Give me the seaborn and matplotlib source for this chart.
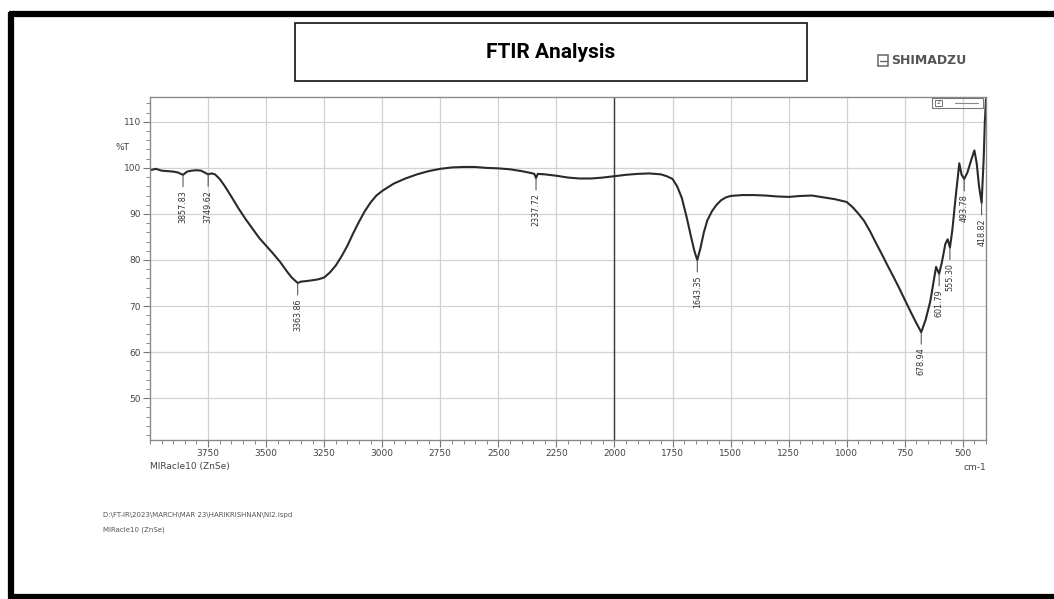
import numpy as np
import pandas as pd
import matplotlib
matplotlib.use("Agg")
import matplotlib.pyplot as plt
import seaborn as sns
from matplotlib.patches import Rectangle
from matplotlib.lines import Line2D
from matplotlib.ticker import MultipleLocator, FixedLocator

# ---------------- data ----------------
wavenumber = [4000, 3975, 3950, 3925, 3900, 3880, 3857.83, 3840, 3820, 3800, 3780, 3765,
              3749.62, 3735, 3720, 3700, 3680, 3650, 3620, 3590, 3560, 3530, 3500, 3470,
              3440, 3410, 3390, 3375, 3363.86, 3350, 3330, 3300, 3275, 3250, 3225, 3200,
              3175, 3150, 3125, 3100, 3075, 3050, 3025, 3000, 2950, 2900, 2850, 2800, 2750,
              2700, 2650, 2600, 2550, 2500, 2450, 2400, 2360, 2345, 2337.72, 2330, 2300,
              2250, 2200, 2150, 2100, 2050, 2000, 1950, 1900, 1850, 1800, 1775, 1750, 1730,
              1710, 1690, 1670, 1655, 1643.35, 1630, 1615, 1600, 1580, 1560, 1540, 1520,
              1500, 1450, 1400, 1350, 1300, 1250, 1200, 1150, 1100, 1050, 1000, 975, 950,
              925, 900, 875, 850, 825, 800, 775, 750, 725, 700, 678.94, 660, 640, 625, 615,
              601.79, 590, 575, 565, 555.30, 545, 530, 515, 505, 493.78, 480, 465, 450, 440,
              430, 418.82, 410, 405, 400]
transmittance = [99.5, 99.8, 99.4, 99.3, 99.2, 99.0, 98.5, 99.2, 99.4, 99.5, 99.4, 99.0,
                 98.6, 98.8, 98.6, 97.6, 96.2, 93.8, 91.3, 89.0, 86.9, 84.8, 83.1, 81.4,
                 79.6, 77.5, 76.2, 75.5, 75.0, 75.3, 75.4, 75.6, 75.8, 76.2, 77.3, 78.8,
                 80.8, 83.1, 85.8, 88.3, 90.6, 92.5, 94.0, 95.0, 96.6, 97.7, 98.6, 99.3, 99.8,
                 100.1, 100.2, 100.2, 100.0, 99.9, 99.7, 99.3, 98.9, 98.7, 97.8, 98.7, 98.6,
                 98.3, 97.9, 97.7, 97.7, 97.9, 98.2, 98.5, 98.7, 98.8, 98.6, 98.2, 97.6, 96.0,
                 93.5, 89.5, 85.0, 81.8, 80.0, 82.5, 86.0, 88.6, 90.6, 92.0, 93.0, 93.6,
                 93.9, 94.1, 94.1, 94.0, 93.8, 93.7, 93.9, 94.0, 93.6, 93.2, 92.6, 91.5, 90.1,
                 88.5, 86.3, 83.8, 81.4, 78.9, 76.5, 74.0, 71.4, 68.8, 66.3, 64.3, 67.0, 71.0,
                 75.5, 78.5, 77.0, 79.5, 83.5, 84.5, 82.7, 86.5, 94.0, 101.0, 98.5, 97.6,
                 99.0, 101.5, 103.8, 101.0, 96.0, 92.4, 102.0, 110.0, 115.0]
peak_wavenumbers = [3857.83, 3749.62, 3363.86, 2337.72, 1643.35, 678.94, 601.79, 555.30,
                    493.78, 418.82]
peak_labels = ["3857.83", "3749.62", "3363.86", "2337.72", "1643.35", "678.94", "601.79",
               "555.30", "493.78", "418.82"]
x_ticks = [3750, 3500, 3250, 3000, 2750, 2500, 2250, 2000, 1750, 1500, 1250, 1000, 750, 500]
y_ticks = [50, 60, 70, 80, 90, 100, 110]

title_text = "FTIR Analysis"
brand_text = "SHIMADZU"
x_unit = "cm-1"
y_unit = "%T"
accessory = "MIRacle10 (ZnSe)"
file_path = r"D:\FT-IR\2023\MARCH\MAR 23\HARIKRISHNAN\NI2.ispd"

# ---------------- figure ----------------
sns.set_theme(style="white")
plt.rcParams["font.family"] = ["DejaVu Sans"]

W, H = 1054, 599
fig = plt.figure(figsize=(W / 100, H / 100), dpi=100)
fig.patch.set_facecolor("white")


def fx(px):
    return px / W


def fy(py):
    return 1 - py / H


ax = fig.add_axes([fx(150), fy(440), fx(986) - fx(150), fy(97) - fy(440)])

df = pd.DataFrame({"wavenumber": wavenumber, "T": transmittance})
sns.lineplot(data=df, x="wavenumber", y="T", sort=False, estimator=None,
             color="#2a2a2a", lw=1.5, ax=ax)

ax.set_xlim(4000, 400)
ax.set_ylim(40.9, 115.4)
ax.set_xlabel("")
ax.set_ylabel("")

ax.xaxis.set_major_locator(FixedLocator(x_ticks))
ax.xaxis.set_minor_locator(MultipleLocator(50))
ax.yaxis.set_major_locator(FixedLocator(y_ticks))
ax.yaxis.set_minor_locator(MultipleLocator(2))
ax.tick_params(axis="both", which="major", direction="out", length=5, width=0.8,
               color="#777777", labelsize=6.5, labelcolor="#444444", pad=1.5,
               bottom=True, left=True)
ax.tick_params(axis="both", which="minor", direction="out", length=3, width=0.7,
               color="#888888", bottom=True, left=True)
ax.set_xticklabels([str(v) for v in x_ticks])
ax.set_yticklabels([str(v) for v in y_ticks])

ax.grid(True, which="major", color="#d2d2d2", lw=0.9)
ax.axvline(2000, color="#3a3a3a", lw=1.0, zorder=1)
for s in ax.spines.values():
    s.set_color("#8a8a8a")
    s.set_linewidth(1.0)

# peak annotations
for wn, lab in zip(peak_wavenumbers, peak_labels):
    t = transmittance[wavenumber.index(wn)]
    ax.annotate(lab, xy=(wn, t), xytext=(0, -11), textcoords="offset points",
                rotation=90, ha="center", va="top", fontsize=5.8, color="#333333",
                arrowprops=dict(arrowstyle="-", lw=0.7, color="#444444",
                                shrinkA=0, shrinkB=0))

# axis unit texts
fig.text(fx(122), fy(147), y_unit, fontsize=6.5, color="#444444", ha="center", va="center")
fig.text(fx(986), fy(468), x_unit, fontsize=6.5, color="#444444", ha="right", va="center")
fig.text(fx(150), fy(467), accessory, fontsize=6.5, color="#444444", ha="left", va="center")

# small legend box in the top-right of the plot
fig.patches.append(Rectangle((fx(932), fy(108)), fx(983) - fx(932), fy(98) - fy(108),
                             transform=fig.transFigure, fill=False, ec="#777777", lw=0.8))
fig.patches.append(Rectangle((fx(935), fy(106)), fx(942) - fx(935), fy(100) - fy(106),
                             transform=fig.transFigure, fill=False, ec="#777777", lw=0.7))
fig.text(fx(938.5), fy(103), "2", fontsize=4.5, color="#555555", ha="center", va="center")
fig.lines.append(Line2D([fx(955), fx(978)], [fy(103), fy(103)], transform=fig.transFigure,
                        color="#888888", lw=0.8))

# file info texts
fig.text(fx(103), fy(515), file_path, fontsize=5, color="#555555", ha="left", va="center")
fig.text(fx(103), fy(530), accessory, fontsize=5, color="#555555", ha="left", va="center")

# brand logo
fig.patches.append(Rectangle((fx(878), fy(66)), fx(888) - fx(878), fy(55) - fy(66),
                             transform=fig.transFigure, fill=False, ec="#666666", lw=1.1))
fig.lines.append(Line2D([fx(879.5), fx(886.5)], [fy(60.5), fy(60.5)],
                        transform=fig.transFigure, color="#666666", lw=1.0))
fig.text(fx(891), fy(60.5), brand_text, fontsize=9, fontweight="bold", color="#555555",
         ha="left", va="center")

# title box
fig.patches.append(Rectangle((fx(295), fy(81)), fx(807) - fx(295), fy(23) - fy(81),
                             transform=fig.transFigure, fill=False, ec="#111111", lw=1.2))
fig.text(fx(551), fy(53), title_text, fontsize=15, fontweight="bold", color="black",
         ha="center", va="center", family=["Roboto", "DejaVu Sans"])

# outer frame (thick black)
frame_kw = dict(transform=fig.transFigure, color="black", lw=4.5, solid_capstyle="butt")
fig.lines.append(Line2D([fx(11), fx(11)], [fy(12), fy(599)], **frame_kw))
fig.lines.append(Line2D([fx(9), 1.0], [fy(14), fy(14)], **frame_kw))
fig.lines.append(Line2D([fx(9), 1.0], [fy(597), fy(597)], **frame_kw))

fig.savefig("out.png", dpi=100, facecolor="white")
